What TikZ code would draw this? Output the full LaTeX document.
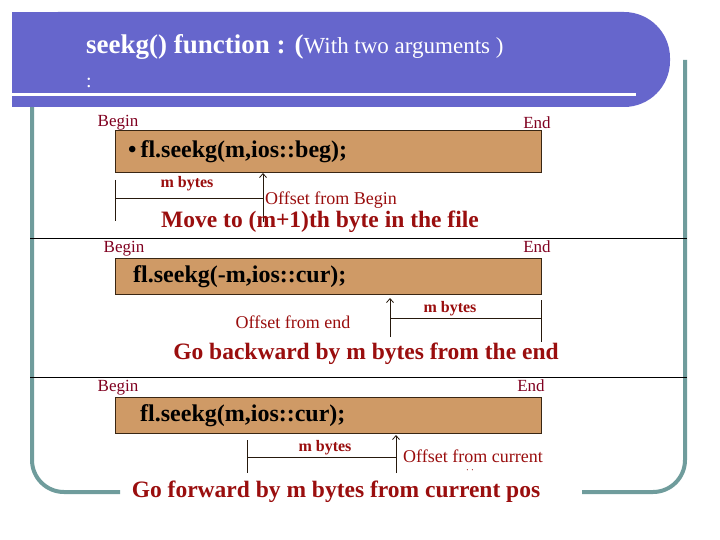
\documentclass[tikz,border=0pt]{standalone}
\usepackage{fontspec}
\usetikzlibrary{arrows.meta}
\setmainfont{Liberation Serif}
\definecolor{banner}{HTML}{6666CC}
\definecolor{frameteal}{HTML}{6F9C9C}
\definecolor{boxfill}{HTML}{CF9A66}
\definecolor{lab}{HTML}{800020}
\definecolor{red2}{HTML}{9A0E0E}
\begin{document}
\begin{tikzpicture}[x=1pt,y=-1pt,
  lbl/.style={inner sep=0pt,text=lab,font=\fontsize{17}{17}\selectfont},
  mb/.style={inner sep=0pt,text=red2,font=\bfseries\fontsize{16}{16}\selectfont},
  off/.style={inner sep=0pt,text=red2,font=\fontsize{18}{18}\selectfont},
  big/.style={inner sep=0pt,text=red2,font=\bfseries\fontsize{23.5}{23.5}\selectfont},
  code/.style={inner sep=0pt,anchor=west,font=\bfseries\fontsize{24}{24}\selectfont},
  filebox/.style={draw=black!70!brown,fill=boxfill,line width=0.8pt},
  tick/.style={draw=black!80!brown,line width=0.8pt},
  up/.style={tick,-{Straight Barb[length=4pt,width=7pt]}}]
\useasboundingbox (0,0) rectangle (720,540);
\fill[white] (0,0) rectangle (720,540);
% frame
\draw[frameteal,line width=4pt,rounded corners=32pt] (120,492) -- (32,492) -- (32,100) ;
\draw[frameteal,line width=4pt,rounded corners=32pt] (582,492) -- (685,492) -- (685,60);
% banner
\fill[banner,rounded corners=46pt] (12,12) -- (670,12) -- (670,107) -- (12,107) -- cycle;
\fill[banner] (12,12) rectangle (100,107);
\draw[white,line width=3pt] (0,95) -- (636,95);
\node[inner sep=0pt,anchor=base west,text=white] (title) at (86,54)
  {\bfseries\fontsize{27}{27}\selectfont seekg() function : (\mdseries\fontsize{23}{23}\selectfont With two arguments )};
\node[inner sep=0pt,anchor=base west,text=white,font=\fontsize{20}{20}\selectfont] (colon) at (86,88) {:};
% separators
\draw[black,line width=0.8pt] (30,238) -- (687,238);
\draw[black,line width=0.8pt] (30,377) -- (687,377);
% ---- panel 1
\node[lbl] (b1) at (118,123) {Begin};
\node[lbl] (e1) at (537,123) {End};
\node[filebox,minimum width=426pt,minimum height=42pt,anchor=north west,inner sep=0pt] (box1) at (115,130) {};
\node[code] (c1) at (128,152) {\textbullet\,fl.seekg(m,ios::beg);};
\coordinate (t1a) at (115,180); \coordinate (t1b) at (115,221);
\coordinate (a1s) at (263,222); \coordinate (a1e) at (263,173);
\coordinate (h1a) at (115,198); \coordinate (h1b) at (263,198);
\draw[tick] (t1a) -- (t1b);
\draw[up] (a1s) -- (a1e);
\draw[tick] (h1a) -- (h1b);
\node[mb] (m1) at (187,184) {m bytes};
\node[off,anchor=west] (o1) at (265,200) {Offset from Begin};
\node[big] (g1) at (320,222) {Move to (m+1)th byte in the file};
% ---- panel 2
\node[lbl] (b2) at (124,249) {Begin};
\node[lbl] (e2) at (537,247) {End};
\node[filebox,minimum width=426pt,minimum height=36pt,anchor=north west,inner sep=0pt] (box2) at (115,258) {};
\node[code] (c2) at (133,277) {fl.seekg(-m,ios::cur);};
\coordinate (a2s) at (390,337); \coordinate (a2e) at (390,298);
\coordinate (t2a) at (541,300); \coordinate (t2b) at (541,342);
\coordinate (h2a) at (390,318); \coordinate (h2b) at (541,318);
\draw[up] (a2s) -- (a2e);
\draw[tick] (t2a) -- (t2b);
\draw[tick] (h2a) -- (h2b);
\node[mb] (m2) at (450,309) {m bytes};
\node[off] (o2) at (293,322) {Offset from end};
\node[big] (g2) at (366,354) {Go backward by m bytes from the end};
% ---- panel 3
\node[lbl] (b3) at (118,388) {Begin};
\node[lbl] (e3) at (531,386) {End};
\node[filebox,minimum width=426pt,minimum height=36pt,anchor=north west,inner sep=0pt] (box3) at (115,397) {};
\node[code] (c3) at (140,416) {fl.seekg(m,ios::cur);};
\coordinate (t3a) at (247,440); \coordinate (t3b) at (247,473);
\coordinate (a3s) at (396,473); \coordinate (a3e) at (396,435);
\coordinate (h3a) at (247,457); \coordinate (h3b) at (396,457);
\draw[tick] (t3a) -- (t3b);
\draw[up] (a3s) -- (a3e);
\draw[tick] (h3a) -- (h3b);
\node[mb] (m3) at (325,448) {m bytes};
\node[off,anchor=west] (o3) at (403,456) {Offset from current};
\node[inner sep=0pt,text=red2,font=\fontsize{10}{10}\selectfont] (dots) at (470,472) {·\,·};
\node[big] (g3) at (336,492) {Go forward by m bytes from current pos};
\end{tikzpicture}
\end{document}
